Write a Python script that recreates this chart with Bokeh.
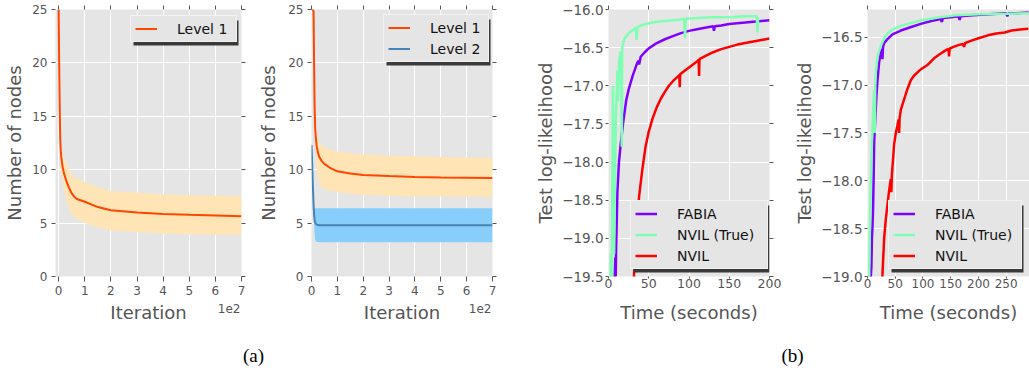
from bokeh.plotting import figure
from bokeh.models import (Range1d, FixedTicker, CustomJSTickFormatter, LinearAxis,
                          Legend, LegendItem, Label, BoxAnnotation)
from bokeh.layouts import row, column
from bokeh.embed import file_html
from bokeh.resources import INLINE
from bokeh.core.properties import value

# ---------------- data: panel (a) left ----------------
a1_iter = [0, 2, 4, 6, 8, 10, 15, 20, 30, 40, 50, 60, 70, 100, 150, 200, 300, 400, 500, 600, 700]
a1_mean = [25, 20, 16, 13, 11.8, 11.2, 10.3, 9.7, 8.9, 8.3, 7.8, 7.45, 7.25, 7.0, 6.5, 6.2, 6.0, 5.85, 5.78, 5.72, 5.65]
a1_band_iter = [7, 10, 20, 30, 40, 50, 60, 80, 100, 150, 200, 300, 400, 500, 600, 700]
a1_upper = [12.3, 11.8, 11.1, 10.5, 10.0, 9.6, 9.3, 9.1, 8.8, 8.35, 8.0, 7.85, 7.7, 7.6, 7.55, 7.5]
a1_lower = [11.3, 10.0, 8.3, 7.1, 6.4, 5.8, 5.55, 5.3, 5.0, 4.6, 4.3, 4.15, 4.0, 3.95, 3.9, 3.9]

# ---------------- data: panel (a) right ----------------
a2_l1_iter = [0, 5, 8, 10, 12, 14, 16, 20, 25, 30, 40, 50, 70, 100, 150, 200, 300, 400, 500, 600, 700]
a2_l1_mean = [25, 25, 24.8, 20, 16, 14, 13.2, 12.2, 11.6, 11.2, 10.8, 10.55, 10.2, 9.85, 9.65, 9.5, 9.4, 9.32, 9.28, 9.25, 9.22]
a2_l1_band_iter = [14, 16, 20, 25, 30, 40, 50, 70, 100, 150, 200, 300, 400, 500, 600, 700]
a2_l1_upper = [14.0, 13.8, 13.4, 13.0, 12.7, 12.3, 12.1, 11.9, 11.7, 11.55, 11.45, 11.3, 11.25, 11.2, 11.15, 11.1]
a2_l1_lower = [13.0, 12.0, 10.2, 9.3, 8.8, 8.4, 8.2, 8.05, 7.9, 7.75, 7.65, 7.55, 7.5, 7.48, 7.46, 7.45]
a2_l2_iter = [0, 2, 4, 6, 8, 10, 12, 15, 20, 30, 50, 100, 700]
a2_l2_mean = [12.3, 11.0, 9.5, 8.0, 6.7, 5.8, 5.3, 5.0, 4.85, 4.8, 4.8, 4.8, 4.8]
a2_l2_band_iter = [8, 10, 12, 14, 17, 20, 50, 700]
a2_l2_upper = [6.4, 6.4, 6.4, 6.4, 6.4, 6.4, 6.4, 6.4]
a2_l2_lower = [6.2, 5.0, 4.0, 3.5, 3.3, 3.22, 3.2, 3.2]

iter_ticks = [0, 100, 200, 300, 400, 500, 600, 700]
node_ticks = [0, 5, 10, 15, 20, 25]

# ---------------- data: panel (b) left ----------------
b1_fabia_t = [7.5, 8.5, 9, 9.5, 10, 11, 12, 13, 15, 18, 22, 25, 30, 35, 37, 38, 40, 45, 50, 60, 70, 80, 90,
              100, 110, 120, 130, 131, 132, 140, 150, 160, 170, 180, 190, 200]
b1_fabia_y = [-19.6, -19.25, -19.5, -19.1, -18.9, -18.4, -18.2, -18.0, -17.78, -17.5, -17.19, -17.05, -16.87,
              -16.72, -16.67, -16.72, -16.62, -16.56, -16.51, -16.44, -16.39, -16.35, -16.31, -16.28, -16.26,
              -16.24, -16.22, -16.28, -16.22, -16.21, -16.19, -16.18, -16.17, -16.16, -16.15, -16.14]
b1_true_t = [2, 3, 4, 5, 5.5, 6.5, 7, 9, 11, 12, 13, 15, 16, 16.5, 17, 18, 20, 25, 30, 34, 35, 36, 40, 50, 60,
             70, 80, 90, 94, 95, 96, 110, 130, 150, 170, 184, 185, 186]
b1_true_y = [-19.8, -19.2, -19.7, -18.0, -17.0, -18.5, -19.2, -17.5, -16.8, -17.2, -16.7, -16.55, -17.0, -17.8,
             -16.5, -16.45, -16.38, -16.31, -16.27, -16.24, -16.40, -16.23, -16.21, -16.18, -16.16, -16.15,
             -16.14, -16.13, -16.12, -16.37, -16.12, -16.11, -16.10, -16.10, -16.09, -16.09, -16.30, -16.10]
b1_nvil_t = [30, 32, 35, 38, 42, 46, 50, 55, 60, 65, 70, 75, 80, 85, 88, 88.5, 89, 95, 100, 105, 110, 112,
             112.5, 113, 120, 130, 140, 150, 160, 170, 180, 190, 200]
b1_nvil_y = [-20.0, -19.4, -18.9, -18.45, -18.1, -17.8, -17.6, -17.42, -17.28, -17.17, -17.08, -17.0, -16.94,
             -16.89, -16.86, -17.02, -16.85, -16.80, -16.76, -16.72, -16.68, -16.66, -16.87, -16.65, -16.61,
             -16.56, -16.52, -16.49, -16.46, -16.44, -16.42, -16.40, -16.38]

# ---------------- data: panel (b) right ----------------
b2_fabia_t = [5, 6, 7, 8, 9, 10, 11, 12, 14, 16, 18, 21, 24, 26, 27, 28, 30, 33, 36, 45, 60, 80, 96, 115, 132,
              134, 136, 150, 164, 166, 168, 190, 220, 250, 252, 254, 270, 290]
b2_fabia_y = [-19.3, -19.0, -18.9, -18.6, -18.48, -18.3, -18.0, -17.6, -17.35, -17.12, -16.95, -16.76, -16.66,
              -16.62, -16.73, -16.6, -16.56, -16.54, -16.52, -16.47, -16.43, -16.39, -16.36, -16.33, -16.31,
              -16.34, -16.30, -16.29, -16.28, -16.32, -16.28, -16.27, -16.26, -16.25, -16.28, -16.25, -16.25, -16.24]
b2_true_t = [2, 3, 4, 5, 6, 8, 10, 12, 13, 14, 15, 16, 18, 20, 24, 30, 36, 45, 60, 80, 100, 130, 160, 200, 250, 290]
b2_true_y = [-19.3, -19.0, -18.6, -18.3, -18.0, -17.6, -17.3, -17.05, -17.5, -17.0, -16.87, -16.8, -16.72,
             -16.66, -16.59, -16.51, -16.46, -16.42, -16.38, -16.35, -16.32, -16.29, -16.27, -16.26, -16.255, -16.25]
b2_nvil_t = [26, 28, 30, 33, 36, 39, 42, 43, 44, 46, 48, 51, 54, 56, 57, 58, 60, 66, 72, 78, 84, 95, 108, 120,
             132, 140, 146, 147, 148, 155, 165, 172, 174, 176, 185, 200, 217, 232, 247, 260, 275, 290]
b2_nvil_y = [-19.1, -18.85, -18.6, -18.4, -18.25, -18.1, -17.98, -18.12, -17.93, -17.78, -17.62, -17.5, -17.42,
             -17.36, -17.5, -17.34, -17.26, -17.15, -17.04, -16.95, -16.9, -16.84, -16.79, -16.72, -16.67, -16.64,
             -16.62, -16.7, -16.62, -16.6, -16.58, -16.57, -16.6, -16.56, -16.54, -16.51, -16.48, -16.46, -16.45,
             -16.43, -16.42, -16.41]

b1_xticks = [0, 50, 100, 150, 200]
b1_yticks = [-19.5, -19.0, -18.5, -18.0, -17.5, -17.0, -16.5, -16.0]
b2_xticks = [0, 50, 100, 150, 200, 250]
b2_yticks = [-19.0, -18.5, -18.0, -17.5, -17.0, -16.5]

series_labels_a = ["Level 1", "Level 2"]
series_labels_b = ["FABIA", "NVIL (True)", "NVIL"]
x_titles = ["Iteration", "Iteration", "Time (seconds)", "Time (seconds)"]
y_titles = ["Number of nodes", "Number of nodes", "Test log-likelihood", "Test log-likelihood"]
offset_text = "1e2"
panel_labels = ["(a)", "(b)"]

# ---------------- styling / layout constants ----------------
FONT = "DejaVu Sans"
GRAY = "#555555"
BG = "#E5E5E5"
SHADOW = "#3a3a3a"
ORANGE = "#FF4500"
ORANGE_BAND = "#FFE4B5"
BLUE = "#4682B4"
BLUE_BAND = "#87CEFA"
C_FABIA = "#8000FF"
C_TRUE = "#80FEB3"
C_NVIL = "#FF0000"

FRAME_H = 267
TOP = 9
BOTTOM = 24
CAPTION_H = 72
LEG_PAD, LEG_SPACING, LEG_GLYPH_W, LEG_ROW_H, LEG_STANDOFF = 4, 4, 22, 17, 20
# (figure left edge, left border, frame width, right border) for the four panels
GEOM = [(0, 55, 186, 13), (254, 57, 181, 28), (520, 88, 161, 21), (790, 77, 162, 0)]

empty_fmt = CustomJSTickFormatter(code="return '';")


def make_fig(i, xr, yr, xticks, yticks, xfmt, yfmt, ylabel, xtick_size, ytick_size,
             x_tick_out, x_label_standoff, y_tick_out, y_label_standoff, y_axis_standoff, right_axis=True):
    _, bl, fw, br = GEOM[i]
    p = figure(frame_width=fw, frame_height=FRAME_H, x_range=Range1d(*xr), y_range=Range1d(*yr),
               output_backend="svg", toolbar_location=None,
               min_border_left=bl, min_border_right=br, min_border_top=TOP, min_border_bottom=BOTTOM,
               background_fill_color=BG, border_fill_color="white", outline_line_color=None)
    p.xaxis.ticker = FixedTicker(ticks=xticks)
    p.yaxis.ticker = FixedTicker(ticks=yticks)
    p.xaxis.formatter = xfmt
    p.yaxis.formatter = yfmt
    p.yaxis.axis_label = ylabel
    for ax in (p.xaxis[0], p.yaxis[0]):
        ax.axis_line_color = None
        ax.major_tick_line_color = GRAY
        ax.major_tick_in = 0
        ax.minor_tick_line_color = None
        ax.major_label_text_color = GRAY
        ax.major_label_text_font = FONT
        ax.axis_label_text_font = FONT
        ax.axis_label_text_color = GRAY
        ax.axis_label_text_font_style = "normal"
        ax.axis_label_text_font_size = "18px"
    p.xaxis.major_label_text_font_size = xtick_size
    p.yaxis.major_label_text_font_size = ytick_size
    p.xaxis.major_tick_out = x_tick_out
    p.xaxis.major_label_standoff = x_label_standoff
    p.yaxis.major_tick_out = y_tick_out
    p.yaxis.major_label_standoff = y_label_standoff
    p.yaxis.axis_label_standoff = y_axis_standoff
    p.grid.grid_line_color = "white"
    p.grid.grid_line_width = 1

    top_ax = LinearAxis(ticker=FixedTicker(ticks=xticks), formatter=empty_fmt, axis_line_color=None,
                        major_tick_line_color=GRAY, major_tick_in=0, major_tick_out=4,
                        minor_tick_line_color=None, major_label_standoff=0)
    p.add_layout(top_ax, "above")
    if right_axis:
        right_ax = LinearAxis(ticker=FixedTicker(ticks=yticks), formatter=empty_fmt, axis_line_color=None,
                              major_tick_line_color=GRAY, major_tick_in=0, major_tick_out=4,
                              minor_tick_line_color=None, major_label_standoff=0)
        p.add_layout(right_ax, "right")
    return p


def add_legend(p, labels, renderers, loc, label_width):
    """Legend at loc (px from frame bottom-left) with a dark offset drop shadow."""
    xr, yr = p.x_range, p.y_range
    fw, fh = p.frame_width, p.frame_height
    n = len(labels)
    w = 2 * LEG_PAD + LEG_GLYPH_W + LEG_STANDOFF + label_width
    h = 2 * LEG_PAD + n * LEG_ROW_H + (n - 1) * LEG_SPACING
    dx = (xr.end - xr.start) / fw
    dy = (yr.end - yr.start) / fh
    sl, sb = loc[0] + 3, loc[1] - 3
    p.add_layout(BoxAnnotation(left=xr.start + sl * dx, right=xr.start + (sl + w) * dx,
                               bottom=yr.start + sb * dy, top=yr.start + (sb + h) * dy,
                               fill_color=SHADOW, fill_alpha=1, line_alpha=0))
    main = Legend(items=[LegendItem(label=value(l), renderers=[r]) for l, r in zip(labels, renderers)],
                  location=loc, margin=0, padding=LEG_PAD, spacing=LEG_SPACING,
                  glyph_width=LEG_GLYPH_W, glyph_height=LEG_ROW_H, label_height=LEG_ROW_H,
                  label_width=label_width, label_standoff=LEG_STANDOFF,
                  label_text_font=FONT, label_text_font_size="14px", label_text_color="#111111",
                  background_fill_color=BG, background_fill_alpha=1,
                  border_line_color="white", border_line_width=1)
    p.add_layout(main)


iter_fmt = CustomJSTickFormatter(code="return (tick / 100).toFixed(0);")
plain_fmt = CustomJSTickFormatter(code="return tick.toFixed(0);")
minus_fmt = CustomJSTickFormatter(code="return (tick < 0 ? '\\u2212' : '') + Math.abs(tick).toFixed(1);")

# ---- panel (a) left ----
f1 = make_fig(0, (-12, 700), (0, 25), iter_ticks, node_ticks, iter_fmt, plain_fmt, y_titles[0],
              "12px", "12px", 5, 4, 4, 4, 4)
f1.varea(x=a1_band_iter, y1=a1_lower, y2=a1_upper, fill_color=ORANGE_BAND, fill_alpha=1)
r11 = f1.line(a1_iter, a1_mean, line_color=ORANGE, line_width=2)
add_legend(f1, series_labels_a[:1], [r11], (75, 234), 55)

# ---- panel (a) right ----
f2 = make_fig(1, (0, 700), (0, 25), iter_ticks, node_ticks, iter_fmt, plain_fmt, y_titles[1],
              "12px", "12px", 5, 4, 4, 4, 6)
f2.varea(x=a2_l1_band_iter, y1=a2_l1_lower, y2=a2_l1_upper, fill_color=ORANGE_BAND, fill_alpha=1)
f2.varea(x=a2_l2_band_iter, y1=a2_l2_lower, y2=a2_l2_upper, fill_color=BLUE_BAND, fill_alpha=1)
r21 = f2.line(a2_l1_iter, a2_l1_mean, line_color=ORANGE, line_width=2)
r22 = f2.line(a2_l2_iter, a2_l2_mean, line_color=BLUE, line_width=2)
add_legend(f2, series_labels_a, [r21, r22], (72, 214), 54)

# ---- panel (b) left ----
f3 = make_fig(2, (0, 200), (-19.5, -16.0), b1_xticks, b1_yticks, plain_fmt, minus_fmt, y_titles[2],
              "12.5px", "13.5px", 2, 0, 3, 2, 3)
r31 = f3.line(b1_fabia_t, b1_fabia_y, line_color=C_FABIA, line_width=2.5)
r32 = f3.line(b1_true_t, b1_true_y, line_color=C_TRUE, line_width=2.5)
r33 = f3.line(b1_nvil_t, b1_nvil_y, line_color=C_NVIL, line_width=2.5)
add_legend(f3, series_labels_b, [r31, r32, r33], (22, 7), 86)

# ---- panel (b) right ----
f4 = make_fig(3, (0, 292), (-19.0, -16.21), b2_xticks, b2_yticks, plain_fmt, minus_fmt, y_titles[3],
              "12px", "13.5px", 2, 0, 3, 2, 3, right_axis=False)
r41 = f4.line(b2_fabia_t, b2_fabia_y, line_color=C_FABIA, line_width=2.5)
r42 = f4.line(b2_true_t, b2_true_y, line_color=C_TRUE, line_width=2.5)
r43 = f4.line(b2_nvil_t, b2_nvil_y, line_color=C_NVIL, line_width=2.5)
add_legend(f4, series_labels_b, [r41, r42, r43], (21, 7), 82)

# ---- strip below the panels: x-axis titles, offset text, sub-figure captions ----
total_w = GEOM[-1][0] + GEOM[-1][1] + GEOM[-1][2] + GEOM[-1][3]
fl = figure(width=total_w, height=CAPTION_H, x_range=Range1d(0, total_w), y_range=Range1d(0, CAPTION_H),
            output_backend="svg", toolbar_location=None, min_border=0,
            outline_line_color=None, background_fill_color="white")
fl.axis.visible = False
fl.grid.visible = False
for (x0, bl, fw, br), title in zip(GEOM, x_titles):
    fl.add_layout(Label(x=x0 + bl + fw / 2, y=CAPTION_H - 12, text=title, text_align="center",
                        text_baseline="middle", text_font=FONT, text_font_size="18px", text_color=GRAY))
for (x0, bl, fw, br) in GEOM[:2]:
    fl.add_layout(Label(x=x0 + bl + fw - 1, y=CAPTION_H - 8, text=offset_text, text_align="right",
                        text_baseline="middle", text_font=FONT, text_font_size="12px", text_color=GRAY))
for txt, xpos in zip(panel_labels, [253, 792]):
    fl.add_layout(Label(x=xpos, y=17, text=txt, text_align="center", text_baseline="middle",
                        text_font="Liberation Serif", text_font_size="19px", text_color="black"))

layout = column(row(f1, f2, f3, f4), fl)
open("out.html", "w").write(file_html(layout, INLINE))
